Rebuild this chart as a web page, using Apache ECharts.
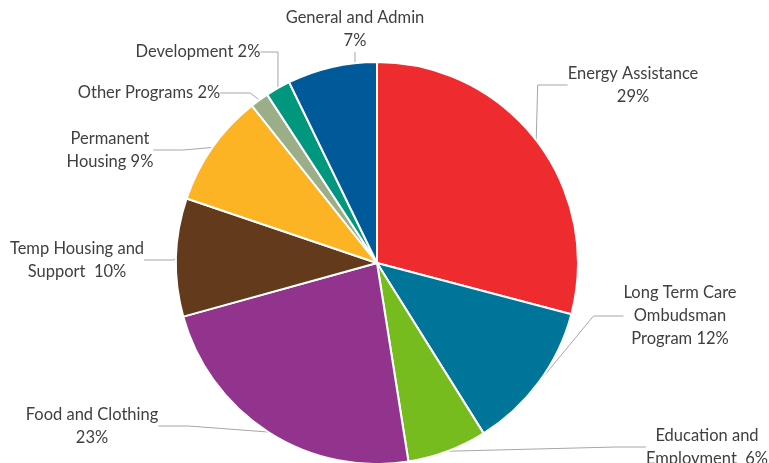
<!DOCTYPE html>
<html>
<head>
<meta charset="utf-8">
<script src="https://cdn.jsdelivr.net/npm/echarts@6/dist/echarts.min.js"></script>
<style>
  html, body { margin: 0; padding: 0; background: #fff; }
  #chart { width: 769px; height: 463px; }
</style>
</head>
<body>
<div id="chart"></div>
<script>
// slices, clockwise from 12 o'clock
const categories = [
  'Energy Assistance',
  'Long Term Care Ombudsman Program',
  'Education and Employment',
  'Food and Clothing',
  'Temp Housing and Support',
  'Permanent Housing',
  'Other Programs',
  'Development',
  'General and Admin'
];
const values = [29.1, 12.0, 6.4, 23.2, 9.5, 9.1, 1.5, 2.0, 7.2];
const colors = ['#EE2B2F', '#00759A', '#77BC1F', '#92338E', '#643A1C', '#FCB424', '#9BAE88', '#00977F', '#005A9A'];

// how each label wraps (text before the percent)
const labelText = [
  'Energy Assistance\n',
  'Long Term Care\nOmbudsman\nProgram ',
  'Education and\nEmployment  ',
  'Food and Clothing\n',
  'Temp Housing and\nSupport  ',
  'Permanent\nHousing ',
  'Other Programs ',
  'Development ',
  'General and Admin\n'
];
// label block centres
const labelPos = [
  [633, 85], [680, 316], [707, 447], [92, 426], [77, 260],
  [110, 150], [149, 93], [198, 52], [355, 29]
];

const chart = echarts.init(document.getElementById('chart'));

chart.setOption({
  animation: false,
  series: [{
    type: 'pie',
    center: [377, 263],
    radius: 201,
    startAngle: 90,
    clockwise: true,
    itemStyle: { borderColor: '#fff', borderWidth: 2 },
    data: categories.map((c, i) => ({ name: c, value: values[i], itemStyle: { color: colors[i] } })),
    label: {
      show: true,
      formatter: p => labelText[p.dataIndex] + Math.round(p.value) + '%',
      fontFamily: 'Lato',
      fontSize: 16.5,
      lineHeight: 23,
      color: '#3F3F3F',
      align: 'center',
      overflow: 'none'
    },
    labelLine: {
      show: true,
      lineStyle: { color: '#A6A6A6', width: 1 }
    },
    labelLayout: p => ({
      x: labelPos[p.dataIndex][0],
      y: labelPos[p.dataIndex][1],
      align: 'center',
      verticalAlign: 'middle'
    })
  }]
});
</script>
</body>
</html>
